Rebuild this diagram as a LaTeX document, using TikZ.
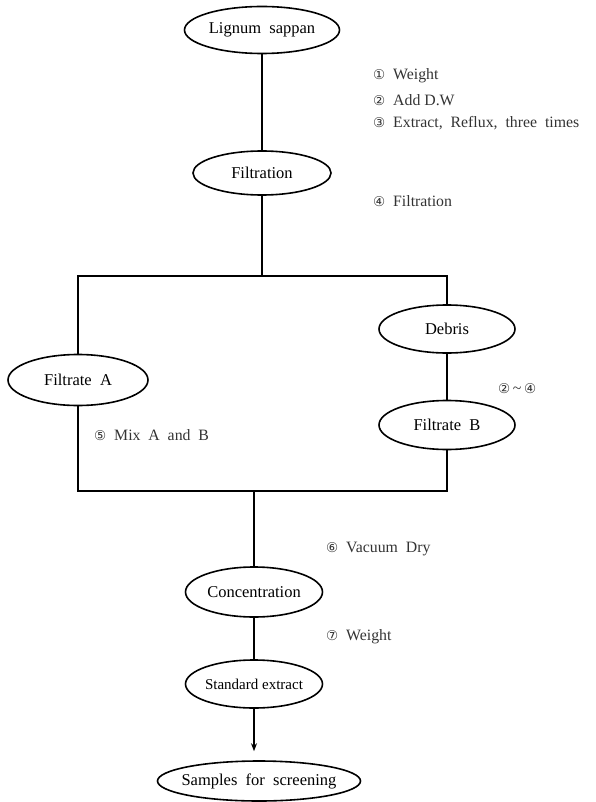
\documentclass[tikz,border=0pt]{standalone}
\usepackage{fontspec}
\setmainfont{Liberation Serif}
\newfontfamily\circfont{DejaVu Sans}
\usetikzlibrary{shapes.geometric,arrows,arrows.meta,positioning}
\tikzset
{
    stage/.style = {ellipse, draw=black, line width=1.6pt, inner sep=0pt, align=center, font=\fontsize{16.5}{19}\selectfont},
    note/.style  = {anchor=west, inner sep=0pt, text=black!80, font=\fontsize{15.8}{18}\selectfont},
    link/.style  = {line width=1.2pt},
    arrow/.style = {line width=1.2pt, ->, >={Stealth[length=8pt, width=6pt]}}
}
\newcommand\cnum[1]{{\circfont\fontsize{13.5}{14}\selectfont #1}}

\begin{document}
\begin{tikzpicture}[x=1pt, y=-1pt]
	 \useasboundingbox (0,0) rectangle (595,802);

	 \node (lig)  [stage, minimum width=155, minimum height=47] at (262, 30)  {\makebox[0pt]{Lignum\ \ sappan}};
	 \node (filt) [stage, minimum width=138, minimum height=44] at (262, 173) {\makebox[0pt]{Filtration}};
	 \node (fa)   [stage, minimum width=140, minimum height=51] at (78, 380)  {\makebox[0pt]{Filtrate\ \ A}};
	 \node (deb)  [stage, minimum width=136, minimum height=48] at (447, 329) {\makebox[0pt]{Debris}};
	 \node (fb)   [stage, minimum width=136, minimum height=49] at (447, 425) {\makebox[0pt]{Filtrate\ \ B}};
	 \node (conc) [stage, minimum width=137, minimum height=50] at (254, 592) {\makebox[0pt]{Concentration}};
	 \node (std)  [stage, minimum width=137, minimum height=48] at (254, 684) {\makebox[0pt]{\fontsize{15}{18}\selectfont Standard extract}};
	 \node (samp) [stage, minimum width=203, minimum height=40] at (259, 781) {\makebox[0pt]{Samples\ \ for\ \ screening}};

	 \coordinate (split) at (262, 276);
	 \coordinate (merge) at (254, 491);

	 % steps
	 \node (n1)  [note] at (373, 76)  {\cnum{①}\ \ Weight};
	 \node (n2)  [note] at (373, 100) {\cnum{②}\ \ Add D.W};
	 \node (n3)  [note] at (373, 123) {\cnum{③}\ \ Extract,\ \ Reflux,\ \ three\ \ times};
	 \node (n4)  [note] at (373, 201) {\cnum{④}\ \ Filtration};
	 \node (n24) [note] at (498, 389) {\cnum{②}\,\textasciitilde\,\cnum{④}};
	 \node (n5)  [note] at (94, 435)  {\cnum{⑤}\ \ Mix\ \ A\ \ and\ \ B};
	 \node (n6)  [note] at (326, 549) {\cnum{⑥}\ \ Vacuum\ \ Dry};
	 \node (n7)  [note] at (326, 637) {\cnum{⑦}\ \ Weight};

	 \draw[link] (lig) -- (filt);
	 \draw[link] (filt) -- (split);
	 \draw[link] (fa) |- (split) -| (deb);
	 \draw[link] (deb) -- (fb);
	 \draw[link] (fa) |- (merge) -| (fb);
	 \draw[link] (merge) -- (conc);
	 \draw[link] (conc) -- (std);
	 \draw[arrow] (std.south) -- ([yshift=9]std.south |- samp.north);
\end{tikzpicture}
\end{document}
